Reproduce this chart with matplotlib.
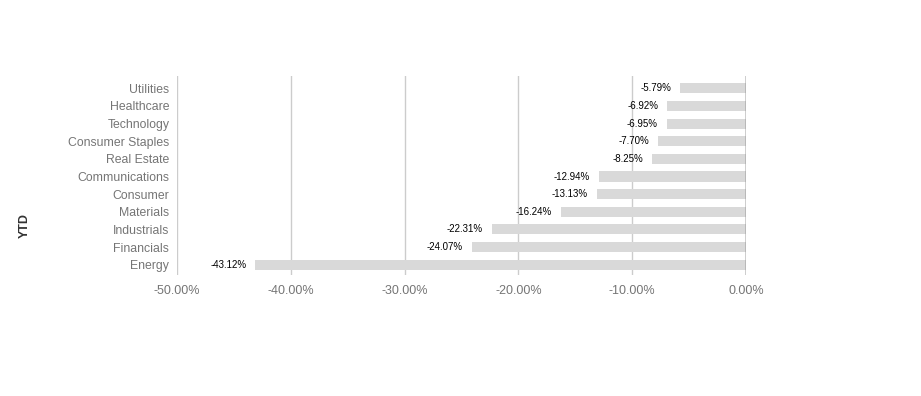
import matplotlib
matplotlib.use("Agg")
import matplotlib.pyplot as plt
from matplotlib.ticker import FuncFormatter

categories = ["Utilities", "Healthcare", "Technology", "Consumer Staples", "Real Estate",
              "Communications", "Consumer", "Materials", "Industrials", "Financials", "Energy"]
values = [-5.79, -6.92, -6.95, -7.70, -8.25, -12.94, -13.13, -16.24, -22.31, -24.07, -43.12]
xticks = [-50, -40, -30, -20, -10, 0]

plt.rcParams['font.family'] = ['Liberation Sans', 'DejaVu Sans']

fig = plt.figure(figsize=(9.21, 3.96), dpi=100)
ax = fig.add_axes([177/921, 1 - 275/396, (746 - 177)/921, (275 - 76)/396])
ax.set_axisbelow(True)

y = list(range(len(categories)))
ax.barh(y, values, height=0.57, color="#d9d9d9", zorder=2)
for yi, v in zip(y, values):
    ax.annotate(f"{v:.2f}%", xy=(v, yi), xytext=(-6.5, 0), textcoords="offset points",
                ha="right", va="center", fontsize=7, color="#000000", zorder=4)

ax.set_ylim(10.585, -0.7)
ax.set_xlim(-50, 0)
ax.set_yticks(y)
ax.set_yticklabels(categories, fontsize=8.8, color="#757575")
ax.set_xticks(xticks)
ax.xaxis.set_major_formatter(FuncFormatter(lambda v, p: f"{v:.2f}%"))
ax.tick_params(axis="x", labelsize=9, colors="#757575", length=0, pad=7)
ax.tick_params(axis="y", length=0, pad=5.5)
for s in ax.spines.values():
    s.set_visible(False)
ax.grid(axis="x", color="#cccccc", linewidth=1)
ax.axvline(0, color="#333333", linewidth=1, zorder=3)

fig.text(25/921, 1 - 226/396, "YTD", rotation=90, ha="center", va="center",
         fontsize=9, fontweight="bold", color="#333333")

fig.savefig("out.png", dpi=100)
